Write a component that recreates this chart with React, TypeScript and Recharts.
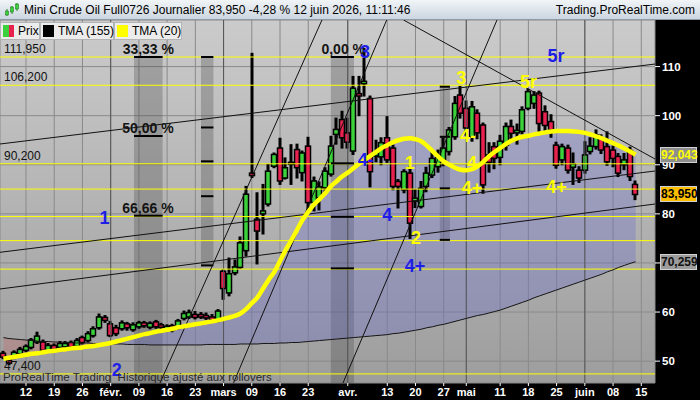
import React from 'react';
import {
  ComposedChart, Bar, Line, Area, XAxis, YAxis, CartesianGrid,
  ReferenceLine, ReferenceArea, ReferenceDot,
} from 'recharts';

// first visible session is 4 days before 12 Jan (index 0)
const FIRST_INDEX = -4;

const opens = [
  51.6, 50.2, 50.8, 51.5, 52.2, 52.8, 53.9, 53.9, 52.2, 53.2,
  52.8, 52.9, 53.8, 53.0, 54.8, 54.2, 55.2, 56.8, 58.9, 57.6,
  56.8, 56.6, 57.6, 56.4, 57.0, 57.8, 56.9, 58.0, 57.4, 56.6,
  57.2, 56.8, 58.7, 59.0, 59.5, 59.5, 59.3, 59.0, 58.3, 68.3,
  63.9, 68.0, 69.1, 72.5, 88.3, 78.9, 80.0, 82.0, 89.7, 93.4,
  87.3, 90.5, 93.1, 88.4, 93.8, 82.3, 83.3, 85.3, 88.1, 96.2,
  99.2, 96.5, 92.8, 104.5, 106.5, 103.5, 91.8, 91.6, 95.5, 93.4,
  86.6, 84.9, 88.3, 82.6, 81.5, 85.6, 87.9, 89.6, 91.0, 92.7,
  95.7, 104.2, 101.5, 95.7, 100.5, 98.1, 92.0, 93.7, 91.5, 94.0,
  97.8, 96.5, 96.8, 101.5, 102.5, 104.6, 100.8, 98.8, 94.0, 91.0,
  93.4, 89.5, 88.9, 88.9, 92.7, 93.7, 95.4, 93.7, 93.0, 91.7,
  90.0, 92.9, 86.0,
];
const highs = [
  52.0, 50.6, 52.1, 52.8, 53.3, 54.6, 55.9, 54.3, 53.6, 53.5,
  54.0, 54.0, 54.1, 54.6, 55.1, 56.0, 57.0, 59.6, 59.3, 58.1,
  57.3, 58.2, 57.9, 57.8, 58.1, 58.1, 58.0, 58.3, 57.7, 57.4,
  57.5, 58.5, 60.2, 60.4, 60.1, 59.9, 59.8, 59.5, 60.5, 68.6,
  71.0, 70.6, 75.3, 85.6, 112.7, 84.3, 86.0, 90.1, 92.4, 95.4,
  91.4, 94.1, 94.2, 92.8, 95.6, 87.5, 86.5, 89.4, 95.8, 99.5,
  100.9, 99.5, 108.0, 108.0, 113.7, 104.0, 95.0, 95.5, 99.8, 94.0,
  87.0, 89.0, 89.6, 85.0, 86.6, 89.5, 92.5, 93.0, 95.5, 97.6,
  103.9, 106.0, 103.0, 102.9, 101.2, 98.5, 94.5, 94.5, 96.0, 98.5,
  99.1, 98.3, 101.8, 105.4, 104.9, 105.0, 102.0, 100.2, 94.6, 94.2,
  94.0, 92.4, 89.6, 94.7, 95.5, 97.1, 96.1, 96.7, 93.8, 92.3,
  92.3, 93.6, 86.7,
];
const lows = [
  50.5, 49.3, 50.5, 51.2, 51.9, 52.5, 53.6, 51.9, 51.9, 52.1,
  52.5, 52.6, 52.6, 52.7, 53.5, 53.9, 54.9, 56.5, 57.9, 55.0,
  55.2, 56.3, 56.3, 56.1, 56.7, 56.9, 56.6, 56.7, 56.6, 56.3,
  56.0, 56.5, 58.4, 58.7, 58.6, 58.7, 58.5, 58.1, 58.0, 62.6,
  63.3, 67.6, 68.9, 71.4, 87.4, 69.8, 75.9, 81.6, 89.4, 86.0,
  87.1, 86.0, 87.3, 86.7, 80.6, 80.6, 80.8, 84.5, 87.7, 94.2,
  93.4, 93.4, 92.1, 100.0, 104.0, 85.5, 90.6, 90.0, 90.5, 84.9,
  81.2, 84.3, 75.0, 81.3, 81.2, 84.5, 87.4, 88.5, 89.8, 92.0,
  95.2, 99.5, 96.0, 94.8, 95.3, 84.2, 88.5, 89.2, 90.0, 93.0,
  95.3, 94.2, 96.3, 101.2, 101.5, 96.8, 96.8, 95.6, 89.3, 90.0,
  88.3, 86.0, 86.4, 88.3, 92.2, 93.2, 92.3, 89.9, 89.6, 87.6,
  89.0, 86.8, 82.9,
];
const closes = [
  50.8, 49.6, 51.8, 52.4, 53.0, 54.3, 55.1, 52.2, 53.2, 52.4,
  53.6, 53.6, 52.9, 54.2, 53.8, 55.6, 56.6, 59.0, 58.3, 55.2,
  55.6, 57.8, 56.8, 57.4, 57.8, 57.2, 57.7, 57.0, 56.9, 57.1,
  56.3, 58.2, 59.7, 59.9, 58.9, 59.0, 58.8, 58.4, 60.2, 64.8,
  67.8, 69.2, 74.1, 84.0, 87.8, 76.5, 80.6, 88.7, 92.1, 86.7,
  89.4, 90.2, 89.4, 92.4, 82.3, 86.7, 85.5, 88.7, 93.8, 97.2,
  95.5, 94.6, 105.6, 104.0, 107.0, 88.6, 92.5, 94.5, 91.0, 85.6,
  85.6, 88.6, 78.1, 83.2, 85.2, 88.3, 91.3, 91.5, 93.4, 97.1,
  102.5, 100.5, 97.5, 101.8, 96.5, 85.9, 90.5, 91.3, 94.8, 97.8,
  96.4, 97.0, 101.2, 104.9, 104.2, 98.4, 98.0, 97.1, 89.9, 93.7,
  88.9, 90.2, 87.3, 92.0, 93.8, 96.1, 93.0, 90.6, 91.3, 88.3,
  91.0, 87.6, 83.95,
];
const tma20 = [
  50.5, 50.7, 50.9, 51.1, 51.3, 51.5, 51.6, 51.8, 52.0, 52.1,
  52.3, 52.4, 52.6, 52.7, 52.8, 53.0, 53.1, 53.3, 53.5, 53.7,
  54.0, 54.3, 54.6, 54.9, 55.2, 55.5, 55.7, 56.0, 56.2, 56.4,
  56.6, 56.9, 57.1, 57.3, 57.5, 57.7, 57.9, 58.1, 58.3, 58.6,
  58.9, 59.2, 59.7, 60.6, 61.8, 63.0, 64.8, 66.6, 68.2, 70.4,
  72.6, 74.6, 76.7, 78.8, 80.4, 81.9, 83.0, 84.2, 85.6, 86.6,
  87.6, 88.4, 89.3, 90.2, 91.0, 91.8, 92.6, 93.4, 94.0, 94.6,
  95.0, 95.3, 95.4, 95.2, 94.8, 93.9, 92.8, 91.7, 90.7, 90.0,
  89.4, 89.0, 88.9, 89.1, 89.7, 90.6, 91.7, 92.6, 93.4, 94.2,
  94.9, 95.4, 95.7, 95.9, 96.2, 96.4, 96.6, 96.8, 96.9, 96.9,
  96.9, 96.8, 96.7, 96.5, 96.2, 95.8, 95.4, 94.9, 94.4, 93.9,
  93.3, 92.7, 92.043,
];
const tma155 = [
  54.8, 54.6, 54.5, 54.4, 54.3, 54.2, 54.1, 54.0, 54.0, 53.9,
  53.9, 53.8, 53.8, 53.7, 53.7, 53.7, 53.6, 53.6, 53.6, 53.5,
  53.5, 53.5, 53.4, 53.4, 53.4, 53.4, 53.3, 53.3, 53.3, 53.3,
  53.3, 53.3, 53.3, 53.3, 53.3, 53.3, 53.4, 53.4, 53.4, 53.4,
  53.4, 53.4, 53.5, 53.5, 53.5, 53.5, 53.6, 53.6, 53.6, 53.7,
  53.7, 53.8, 53.8, 53.9, 54.0, 54.1, 54.2, 54.3, 54.4, 54.5,
  54.6, 54.7, 54.8, 54.9, 55.0, 55.1, 55.2, 55.3, 55.4, 55.6,
  55.7, 55.9, 56.1, 56.3, 56.5, 56.8, 57.0, 57.3, 57.5, 57.8,
  58.1, 58.4, 58.7, 59.0, 59.3, 59.5, 59.8, 60.1, 60.4, 60.8,
  61.2, 61.6, 62.0, 62.4, 62.9, 63.3, 63.7, 64.1, 64.5, 64.9,
  65.3, 65.7, 66.1, 66.5, 66.9, 67.3, 67.7, 68.2, 68.6, 69.1,
  69.5, 69.9, 70.259,
];

const X_TICKS = [0, 5, 10, 15, 20, 25, 30, 35, 40, 45, 50, 57, 64, 69, 74, 78, 84, 89, 94, 99, 104, 109];
const X_LABELS = ['12', '19', '26', 'févr.', '09', '16', '23', 'mars', '09', '16', '23', 'avr.', '13', '20', '27', 'mai', '11', '18', '25', 'juin', '08', '15'];
const MONTH_TICKS = [15, 35, 57, 78, 99];
const Y_TICKS = [50, 60, 70, 80, 90, 100, 110];
// 70 sits under the TMA(155) price tag, so its label is left blank
const Y_HIDDEN = [70];

const LEVELS = [111.95, 106.2, 90.2, 85.05, 79.45, 74.55, 68.75, 47.4];
const LEVEL_LABELS = ['111,950', '106,200', '90,200', '', '', '', '', '47,400'];

// drawn trend lines: [index, price] -> [index, price]
const TRENDS = [
  [[-4.606, 94.23], [111.43, 110.52]],
  [[-4.606, 72.17], [111.43, 88.73]],
  [[-4.606, 64.7], [111.43, 82.01]],
  [[66.89, 119.49], [111.43, 91.18]],
  [[52.43, 119.49], [23.74, 45.55]],
  [[63.9, 119.49], [36.76, 45.55]],
  [[83.44, 119.49], [56.16, 45.55]],
];

const BANDS = [
  { x1: 19.13, x2: 24.2, y1: 45.55, y2: 111.95 },
  { x1: 31.0, x2: 33.2, y1: 69.4, y2: 111.95 },
  { x1: 54.0, x2: 58.1, y1: 45.55, y2: 111.95 },
  { x1: 73.3, x2: 75.1, y1: 74.7, y2: 105.8 },
];
const BAND_MARKS = [
  [111.95, 95.86, 79.63],
  [111.95, 97.6, 90.7, 83.6, 69.5],
  [111.95, 90.3, 79.4, 68.9],
  [105.9, 95.7, 85.2, 74.7],
];
const FIB_TEXT = [
  { i: 21.67, p: 113.64, text: '33,33 %' },
  { i: 21.6, p: 97.55, text: '50,00 %' },
  { i: 21.6, p: 81.2, text: '66,66 %' },
  { i: 56.2, p: 113.64, text: '0,00 %' },
];

const BLUE = '#1e1ee6';
const YELLOW = '#ffff00';
const WAVES = [
  { i: 13.9, p: 79.1, text: '1', color: BLUE },
  { i: 16.1, p: 48.2, text: '2', color: BLUE },
  { i: 60.05, p: 113.0, text: '3', color: BLUE },
  { i: 60.2, p: 90.97, text: '4-', color: BLUE },
  { i: 64.0, p: 79.8, text: '4', color: BLUE },
  { i: 68.9, p: 69.3, text: '4+', color: BLUE },
  { i: 93.9, p: 112.15, text: '5r', color: BLUE },
  { i: 68.0, p: 90.4, text: '1', color: YELLOW },
  { i: 69.1, p: 75.0, text: '2', color: YELLOW },
  { i: 77.1, p: 107.6, text: '3', color: YELLOW },
  { i: 78.3, p: 95.9, text: '4-', color: YELLOW },
  { i: 79.0, p: 90.4, text: '4', color: YELLOW },
  { i: 79.0, p: 85.3, text: '4+', color: YELLOW },
  { i: 89.0, p: 106.9, text: '5r', color: YELLOW },
  { i: 94.0, p: 85.55, text: '4+', color: YELLOW },
];

const TAGS = [
  { v: 92.043, text: '92,043', bg: '#8e8e8e', fg: '#ffff00' },
  { v: 83.95, text: '83,950', bg: '#ffbf00', fg: '#000' },
  { v: 70.259, text: '70,259', bg: '#9c9c9c', fg: '#111' },
];

const X_DOMAIN = [-4.606, 111.43];
const Y_DOMAIN = [45.55, 119.49];
const PLOT_TOP = 20;
const PLOT_H = 363;
const yPix = (v: number) => PLOT_TOP + ((Y_DOMAIN[1] - v) / (Y_DOMAIN[1] - Y_DOMAIN[0])) * PLOT_H;

const FONT = '"Liberation Sans", Arial, sans-serif';

const data = closes.map((c, k) => ({
  i: k + FIRST_INDEX,
  o: opens[k], h: highs[k], l: lows[k], c,
  t20: tma20[k], t155: tma155[k],
}));

const Candle = (props: any) => {
  const { x, y, width, height, payload } = props;
  if (!payload || y == null || height == null) return null;
  const top = Math.min(y, y + height);
  const bot = Math.max(y, y + height);
  const span = payload.h - payload.l;
  const k = span > 0 ? (bot - top) / span : 0;
  const yO = top + (payload.h - payload.o) * k;
  const yC = top + (payload.h - payload.c) * k;
  const cx = Math.round(x + width / 2);
  const up = payload.c >= payload.o;
  return (
    <g>
      <line x1={cx} x2={cx} y1={top - 0.5} y2={bot + 0.5} stroke="#000" strokeWidth={3} />
      <rect
        x={cx - 2.5}
        y={Math.min(yO, yC)}
        width={5}
        height={Math.max(Math.abs(yC - yO), 2)}
        fill={up ? '#3bd13b' : '#e8224f'}
        stroke="#000"
        strokeWidth={1.5}
      />
    </g>
  );
};

const textShape = (text: string, color: string, size: number) => (p: any) => (
  <text
    x={p.cx}
    y={p.cy}
    fill={color}
    fontSize={size}
    fontWeight="bold"
    fontFamily={FONT}
    textAnchor="middle"
    dominantBaseline="central"
  >
    {text}
  </text>
);

const legendBox = (left: number, width: number, swatch: React.ReactNode, label: string) => (
  <div
    style={{
      position: 'absolute', left, top: 22, width, height: 18, boxSizing: 'border-box',
      background: '#ececec', border: '1px solid #b4b4b4', fontSize: 12, lineHeight: '16px',
      whiteSpace: 'nowrap',
    }}
  >
    <div style={{ position: 'absolute', left: 2, top: 2, width: 11, height: 12 }}>{swatch}</div>
    <span style={{ position: 'absolute', left: 17, top: 0, whiteSpace: 'nowrap' }}>{label}</span>
  </div>
);

export default function App() {
  return (
    <div style={{ position: 'absolute', left: 0, top: 0, width: 700, height: 400, overflow: 'hidden', fontFamily: FONT }}>
      <div style={{ position: 'absolute', left: 0, top: 20, width: 655, height: 363, background: 'linear-gradient(#cbcbcb, #9d9d9d)' }} />
      <div style={{ position: 'absolute', left: 655, top: 20, width: 45, height: 380, background: '#000' }} />
      <div style={{ position: 'absolute', left: 0, top: 383, width: 700, height: 17, background: '#000' }} />

      <div style={{ position: 'absolute', left: 0, top: 0 }}>
        <ComposedChart width={700} height={400} data={data} margin={{ top: 20, right: 0, bottom: 0, left: 0 }}>
          <CartesianGrid stroke="#8a8a8a" />
          <XAxis
            type="number"
            dataKey="i"
            domain={X_DOMAIN}
            ticks={X_TICKS}
            interval={0}
            allowDataOverflow
            height={17}
            tickFormatter={(v: number) => X_LABELS[X_TICKS.indexOf(v)] ?? ''}
            tick={{ fill: '#fff', fontSize: 11, fontWeight: 'bold' }}
            tickLine={{ stroke: '#fff' }}
            tickSize={3}
            tickMargin={2}
            axisLine={false}
          />
          <YAxis
            orientation="right"
            type="number"
            domain={Y_DOMAIN}
            ticks={Y_TICKS}
            interval={0}
            allowDataOverflow
            width={45}
            tickFormatter={(v: number) => (Y_HIDDEN.includes(v) ? '' : String(v))}
            tick={{ fill: '#fff', fontSize: 11.5, fontWeight: 'bold' }}
            tickLine={{ stroke: '#fff' }}
            tickSize={5}
            tickMargin={2}
            axisLine={false}
          />
          {MONTH_TICKS.map((m) => (
            <ReferenceLine key={'m' + m} x={m} stroke="#555" />
          ))}
          {BANDS.map((b, k) => (
            <ReferenceArea key={'b' + k} x1={b.x1} x2={b.x2} y1={b.y1} y2={b.y2} fill="#3c3c3c" fillOpacity={0.28} stroke="none" ifOverflow="hidden" />
          ))}
          <Area
            dataKey={(d: any) => [d.t155, Math.max(d.t20, d.t155)]}
            type="monotone"
            stroke="none"
            fill="#6464d2"
            fillOpacity={0.3}
            isAnimationActive={false}
          />
          <Area
            dataKey={(d: any) => [Math.min(d.t20, d.t155), d.t155]}
            type="monotone"
            stroke="none"
            fill="#c86464"
            fillOpacity={0.3}
            isAnimationActive={false}
          />
          {LEVELS.map((v, k) => (
            <ReferenceLine
              key={'l' + k}
              y={v}
              stroke="#ffff00"
              ifOverflow="hidden"
              label={LEVEL_LABELS[k] ? { value: LEVEL_LABELS[k], position: 'insideBottomLeft', offset: 4, fill: '#111', fontSize: 12 } : undefined}
            />
          ))}
          {BANDS.map((b, k) =>
            BAND_MARKS[k].map((v, j) => (
              <ReferenceLine
                key={'bm' + k + '-' + j}
                segment={[{ x: b.x1, y: v }, { x: b.x2, y: v }]}
                stroke="#000"
                strokeWidth={2}
                ifOverflow="hidden"
              />
            ))
          )}
          {TRENDS.map((t, k) => (
            <ReferenceLine
              key={'t' + k}
              segment={[{ x: t[0][0], y: t[0][1] }, { x: t[1][0], y: t[1][1] }]}
              stroke="#111"
              strokeWidth={1}
              ifOverflow="hidden"
            />
          ))}
          <Line dataKey="t155" type="monotone" stroke="#151515" strokeWidth={1} dot={false} isAnimationActive={false} />
          <Bar dataKey={(d: any) => [d.l, d.h]} barSize={6} shape={Candle} isAnimationActive={false} />
          <Line dataKey="t20" type="monotone" stroke="#ffff00" strokeWidth={4.5} dot={false} isAnimationActive={false} />
          {FIB_TEXT.map((f, k) => (
            <ReferenceDot key={'f' + k} x={f.i} y={f.p} r={1} ifOverflow="visible" shape={textShape(f.text, '#141414', 14)} />
          ))}
          {WAVES.map((w, k) => (
            <ReferenceDot key={'w' + k} x={w.i} y={w.p} r={1} ifOverflow="visible" shape={textShape(w.text, w.color, 18)} />
          ))}
        </ComposedChart>
      </div>

      <div
        style={{
          position: 'absolute', left: 0, top: 0, width: 700, height: 20, boxSizing: 'border-box',
          background: 'linear-gradient(#f1f5f8, #ccd6df)', borderBottom: '1px solid #8d9aa8',
        }}
      >
        <svg style={{ position: 'absolute', left: 5, top: 3 }} width={14} height={14}>
          <line x1={2} x2={2} y1={6} y2={13} stroke="#1a8a1a" />
          <rect x={0.5} y={8} width={3} height={4} fill="#3bd13b" stroke="#1a6a1a" strokeWidth={0.5} />
          <line x1={7} x2={7} y1={3} y2={11} stroke="#1a8a1a" />
          <rect x={5.5} y={4} width={3} height={5} fill="#3bd13b" stroke="#1a6a1a" strokeWidth={0.5} />
          <line x1={12} x2={12} y1={0} y2={8} stroke="#1a8a1a" />
          <rect x={10.5} y={1} width={3} height={5} fill="#3bd13b" stroke="#1a6a1a" strokeWidth={0.5} />
        </svg>
        <span style={{ position: 'absolute', left: 24, top: 3, fontSize: 12, color: '#000', whiteSpace: 'pre' }}>
          Mini Crude Oil Full0726 Journalier 83,950 -4,28 % 12 juin 2026, 11:11:46
        </span>
        <span style={{ position: 'absolute', right: 5, top: 3, fontSize: 12, color: '#000' }}>Trading.ProRealTime.com</span>
      </div>

      {legendBox(0, 40, (
        <div style={{ display: 'flex', width: 11, height: 12 }}>
          <div style={{ flex: 1, background: '#3bd13b' }} />
          <div style={{ flex: 1, background: '#e8224f' }} />
        </div>
      ), 'Prix')}
      {legendBox(40, 74, <div style={{ width: 11, height: 12, background: '#000' }} />, 'TMA (155)')}
      {legendBox(114, 68, <div style={{ width: 11, height: 12, background: '#ffff00' }} />, 'TMA (20)')}

      {TAGS.map((t) => (
        <div
          key={t.text}
          style={{
            position: 'absolute', left: 660, top: yPix(t.v) - 8, width: 37, height: 16, boxSizing: 'border-box',
            background: t.bg, border: '1px solid #d0d0d0', color: t.fg, fontSize: 12, fontWeight: 'bold',
            lineHeight: '14px', textAlign: 'center',
          }}
        >
          {t.text}
        </div>
      ))}

      <div style={{ position: 'absolute', left: 3, top: 371, fontSize: 11.5, lineHeight: '12px', color: '#2a2a2a', whiteSpace: 'pre' }}>
        ProRealTime Trading  Historique ajusté aux rollovers
      </div>
    </div>
  );
}
